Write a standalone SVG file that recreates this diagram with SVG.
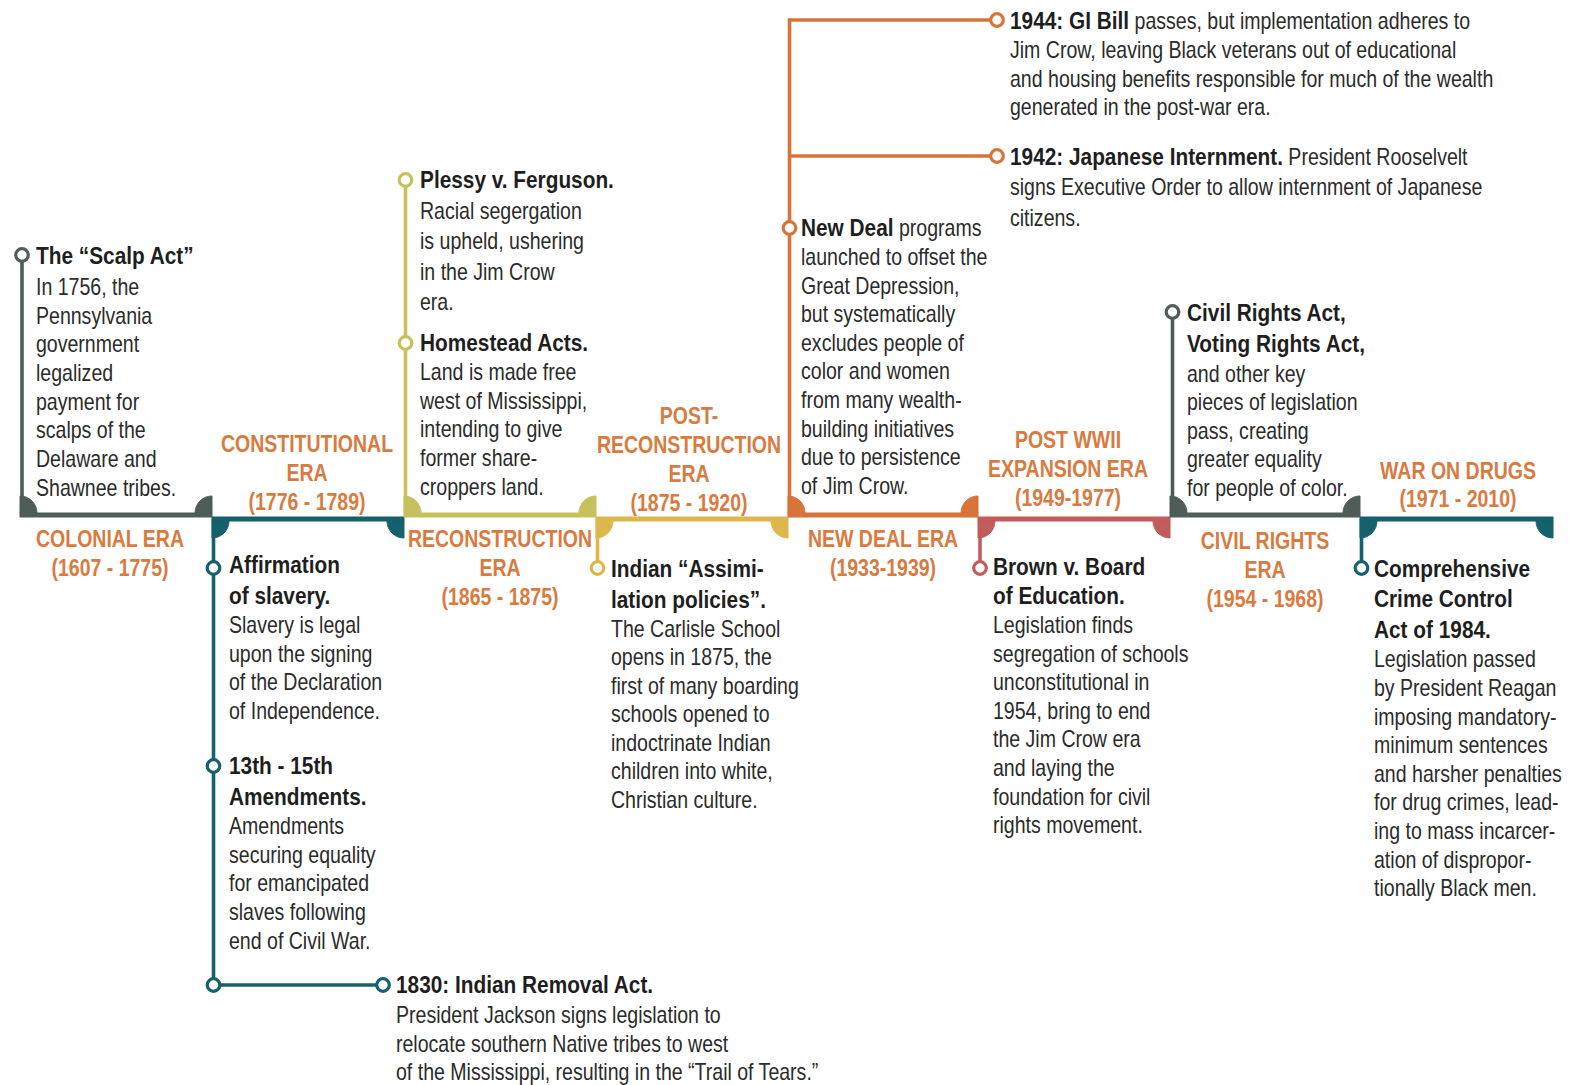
<svg xmlns="http://www.w3.org/2000/svg" width="1569" height="1085" viewBox="0 0 1569 1085">
<style>
text{font-family:"Liberation Sans",Arial,sans-serif;font-size:23px;fill:#2b2b2b}
.b{font-weight:bold;fill:#1e1e1e;font-size:24.5px}
.era{font-weight:bold;fill:#d97a3f;text-anchor:middle;font-size:23.5px}
.dot{fill:#fff;stroke-width:3.2}
.gray{fill:#4f5d58;stroke:#4f5d58}
.teal{fill:#15616d;stroke:#15616d}
.olive{fill:#c5c25c;stroke:#c5c25c}
.gold{fill:#dcb84c;stroke:#dcb84c}
.orange{fill:#d8733a;stroke:#d8733a}
.rose{fill:#c25b5b;stroke:#c25b5b}
path.ln{fill:none;stroke-width:3.6}
</style>
<rect width="1569" height="1085" fill="#fff"/>

<g id="connectors">
<path class="ln gray" d="M22 515 V255"/>
<path class="ln teal" d="M213.5 519 V985 H383"/>
<path class="ln olive" d="M405.5 515 V180"/>
<path class="ln gold" d="M597.5 519 V568"/>
<path class="ln orange" d="M789.5 515 V20 H997 M789.5 156 H997"/>
<path class="ln rose" d="M980 519 V568"/>
<path class="ln gray" d="M1172.5 515 V312"/>
<path class="ln teal" d="M1361.5 519 V568"/>
</g>

<g id="era-colonial">
<rect class="gray" x="20" y="513" width="192" height="4" stroke="none"/>
<path class="gray" stroke="none" d="M20 513 V496 A17 17 0 0 1 37 513 Z M212 513 H195 A17 17 0 0 1 212 496 Z"/>
<text class="era" transform="translate(110 0) scale(0.83 1)" x="0" y="547.5">COLONIAL ERA<tspan x="0" dy="29">(1607 - 1775)</tspan></text>
</g>

<g id="era-constitutional">
<rect class="teal" x="212" y="517" width="192" height="4" stroke="none"/>
<path class="teal" stroke="none" d="M212 521 H229 A17 17 0 0 1 212 538 Z M404 521 V538 A17 17 0 0 1 387 521 Z"/>
<text class="era" transform="translate(307 0) scale(0.83 1)" x="0" y="452.5">CONSTITUTIONAL<tspan x="0" dy="28.5">ERA</tspan><tspan x="0" dy="29">(1776 - 1789)</tspan></text>
</g>

<g id="era-reconstruction">
<rect class="olive" x="404" y="513" width="192" height="4" stroke="none"/>
<path class="olive" stroke="none" d="M404 513 V496 A17 17 0 0 1 421 513 Z M596 513 H579 A17 17 0 0 1 596 496 Z"/>
<text class="era" transform="translate(500 0) scale(0.83 1)" x="0" y="547.5">RECONSTRUCTION<tspan x="0" dy="29">ERA</tspan><tspan x="0" dy="29">(1865 - 1875)</tspan></text>
</g>

<g id="era-post-reconstruction">
<rect class="gold" x="596" y="517" width="192" height="4" stroke="none"/>
<path class="gold" stroke="none" d="M596 521 H613 A17 17 0 0 1 596 538 Z M788 521 V538 A17 17 0 0 1 771 521 Z"/>
<text class="era" transform="translate(689 0) scale(0.83 1)" x="0" y="424.5">POST-<tspan x="0" dy="29">RECONSTRUCTION</tspan><tspan x="0" dy="28.5">ERA</tspan><tspan x="0" dy="29">(1875 - 1920)</tspan></text>
</g>

<g id="era-new-deal">
<rect class="orange" x="788" y="513" width="190" height="4" stroke="none"/>
<path class="orange" stroke="none" d="M788 513 V496 A17 17 0 0 1 805 513 Z M978 513 H961 A17 17 0 0 1 978 496 Z"/>
<text class="era" transform="translate(883 0) scale(0.83 1)" x="0" y="547.5">NEW DEAL ERA<tspan x="0" dy="29">(1933-1939)</tspan></text>
</g>

<g id="era-post-wwii">
<rect class="rose" x="978" y="517" width="192" height="4" stroke="none"/>
<path class="rose" stroke="none" d="M978 521 H995 A17 17 0 0 1 978 538 Z M1170 521 V538 A17 17 0 0 1 1153 521 Z"/>
<text class="era" transform="translate(1068 0) scale(0.83 1)" x="0" y="448.5">POST WWII<tspan x="0" dy="29">EXPANSION ERA</tspan><tspan x="0" dy="29">(1949-1977)</tspan></text>
</g>

<g id="era-civil-rights">
<rect class="gray" x="1170" y="513" width="190" height="4" stroke="none"/>
<path class="gray" stroke="none" d="M1170 513 V496 A17 17 0 0 1 1187 513 Z M1360 513 H1343 A17 17 0 0 1 1360 496 Z"/>
<text class="era" transform="translate(1265 0) scale(0.83 1)" x="0" y="549.5">CIVIL RIGHTS<tspan x="0" dy="29">ERA</tspan><tspan x="0" dy="29">(1954 - 1968)</tspan></text>
</g>

<g id="era-war-on-drugs">
<rect class="teal" x="1360" y="517" width="193" height="4" stroke="none"/>
<path class="teal" stroke="none" d="M1360 521 H1377 A17 17 0 0 1 1360 538 Z M1553 521 V538 A17 17 0 0 1 1536 521 Z"/>
<text class="era" transform="translate(1458 0) scale(0.83 1)" x="0" y="479.5">WAR ON DRUGS<tspan x="0" dy="28">(1971 - 2010)</tspan></text>
</g>

<g id="ev-scalp-act">
<circle class="dot" cx="22" cy="255" r="6.3" stroke="#4f5d58"/>
<text transform="translate(36 0) scale(0.85 1)" x="0" y="264"><tspan class="b">The “Scalp Act”</tspan><tspan x="0" dy="31">In 1756, the</tspan><tspan x="0" dy="28.7">Pennsylvania</tspan><tspan x="0" dy="28.7">government</tspan><tspan x="0" dy="28.7">legalized</tspan><tspan x="0" dy="28.7">payment for</tspan><tspan x="0" dy="28.7">scalps of the</tspan><tspan x="0" dy="28.7">Delaware and</tspan><tspan x="0" dy="28.7">Shawnee tribes.</tspan></text>
</g>

<g id="ev-affirmation">
<circle class="dot" cx="213.5" cy="568" r="6.3" stroke="#15616d"/>
<text transform="translate(229 0) scale(0.85 1)" x="0" y="573"><tspan class="b">Affirmation</tspan><tspan class="b" x="0" dy="31">of slavery.</tspan><tspan x="0" dy="29">Slavery is legal</tspan><tspan x="0" dy="28.7">upon the signing</tspan><tspan x="0" dy="28.7">of the Declaration</tspan><tspan x="0" dy="28.7">of Independence.</tspan></text>
</g>

<g id="ev-amendments">
<circle class="dot" cx="213.5" cy="766" r="6.3" stroke="#15616d"/>
<text transform="translate(229 0) scale(0.85 1)" x="0" y="774"><tspan class="b">13th - 15th</tspan><tspan class="b" x="0" dy="31">Amendments.</tspan><tspan x="0" dy="29">Amendments</tspan><tspan x="0" dy="28.7">securing equality</tspan><tspan x="0" dy="28.7">for emancipated</tspan><tspan x="0" dy="28.7">slaves following</tspan><tspan x="0" dy="28.7">end of Civil War.</tspan></text>
</g>

<g id="ev-removal-act">
<circle class="dot" cx="213.5" cy="985" r="6.3" stroke="#15616d"/>
<circle class="dot" cx="383" cy="985" r="6.3" stroke="#15616d"/>
<text transform="translate(396 0) scale(0.85 1)" x="0" y="993"><tspan class="b">1830: Indian Removal Act.</tspan><tspan x="0" dy="30">President Jackson signs legislation to</tspan><tspan x="0" dy="28.7">relocate southern Native tribes to west</tspan><tspan x="0" dy="28.7">of the Mississippi, resulting in the “Trail of Tears.”</tspan></text>
</g>

<g id="ev-plessy">
<circle class="dot" cx="405.5" cy="180" r="6.3" stroke="#c5c25c"/>
<text transform="translate(420 0) scale(0.85 1)" x="0" y="188"><tspan class="b">Plessy v. Ferguson.</tspan><tspan x="0" dy="31">Racial segergation</tspan><tspan x="0" dy="30.3">is upheld, ushering</tspan><tspan x="0" dy="30.3">in the Jim Crow</tspan><tspan x="0" dy="30.3">era.</tspan></text>
</g>

<g id="ev-homestead">
<circle class="dot" cx="405.5" cy="343" r="6.3" stroke="#c5c25c"/>
<text transform="translate(420 0) scale(0.85 1)" x="0" y="351"><tspan class="b">Homestead Acts.</tspan><tspan x="0" dy="29">Land is made free</tspan><tspan x="0" dy="28.7">west of Mississippi,</tspan><tspan x="0" dy="28.7">intending to give</tspan><tspan x="0" dy="28.7">former share-</tspan><tspan x="0" dy="28.7">croppers land.</tspan></text>
</g>

<g id="ev-assimilation">
<circle class="dot" cx="597.5" cy="568" r="6.3" stroke="#dcb84c"/>
<text transform="translate(611 0) scale(0.85 1)" x="0" y="577"><tspan class="b">Indian “Assimi-</tspan><tspan class="b" x="0" dy="31">lation policies”.</tspan><tspan x="0" dy="29">The Carlisle School</tspan><tspan x="0" dy="28.5">opens in 1875, the</tspan><tspan x="0" dy="28.5">first of many boarding</tspan><tspan x="0" dy="28.5">schools opened to</tspan><tspan x="0" dy="28.5">indoctrinate Indian</tspan><tspan x="0" dy="28.5">children into white,</tspan><tspan x="0" dy="28.5">Christian culture.</tspan></text>
</g>

<g id="ev-new-deal">
<circle class="dot" cx="789.5" cy="228" r="6.3" stroke="#d8733a"/>
<text transform="translate(801 0) scale(0.85 1)" x="0" y="236"><tspan class="b">New Deal</tspan> programs<tspan x="0" dy="29">launched to offset the</tspan><tspan x="0" dy="28.6">Great Depression,</tspan><tspan x="0" dy="28.6">but systematically</tspan><tspan x="0" dy="28.6">excludes people of</tspan><tspan x="0" dy="28.6">color and women</tspan><tspan x="0" dy="28.6">from many wealth-</tspan><tspan x="0" dy="28.6">building initiatives</tspan><tspan x="0" dy="28.6">due to persistence</tspan><tspan x="0" dy="28.6">of Jim Crow.</tspan></text>
</g>

<g id="ev-gi-bill">
<circle class="dot" cx="997" cy="20" r="6.3" stroke="#d8733a"/>
<text transform="translate(1010 0) scale(0.85 1)" x="0" y="29"><tspan class="b">1944: GI Bill</tspan> passes, but implementation adheres to<tspan x="0" dy="29">Jim Crow, leaving Black veterans out of educational</tspan><tspan x="0" dy="28.7">and housing benefits responsible for much of the wealth</tspan><tspan x="0" dy="28.7">generated in the post-war era.</tspan></text>
</g>

<g id="ev-internment">
<circle class="dot" cx="997" cy="156" r="6.3" stroke="#d8733a"/>
<text transform="translate(1010 0) scale(0.85 1)" x="0" y="165"><tspan class="b">1942: Japanese Internment.</tspan> President Rooselvelt<tspan x="0" dy="30.5">signs Executive Order to allow internment of Japanese</tspan><tspan x="0" dy="30.5">citizens.</tspan></text>
</g>

<g id="ev-brown">
<circle class="dot" cx="980" cy="568" r="6.3" stroke="#c25b5b"/>
<text transform="translate(993 0) scale(0.85 1)" x="0" y="575"><tspan class="b">Brown v. Board</tspan><tspan class="b" x="0" dy="29">of Education.</tspan><tspan x="0" dy="29">Legislation finds</tspan><tspan x="0" dy="28.6">segregation of schools</tspan><tspan x="0" dy="28.6">unconstitutional in</tspan><tspan x="0" dy="28.6">1954, bring to end</tspan><tspan x="0" dy="28.6">the Jim Crow era</tspan><tspan x="0" dy="28.6">and laying the</tspan><tspan x="0" dy="28.6">foundation for civil</tspan><tspan x="0" dy="28.6">rights movement.</tspan></text>
</g>

<g id="ev-civil-rights">
<circle class="dot" cx="1172.5" cy="312" r="6.3" stroke="#4f5d58"/>
<text transform="translate(1187 0) scale(0.85 1)" x="0" y="321"><tspan class="b">Civil Rights Act,</tspan><tspan class="b" x="0" dy="31">Voting Rights Act,</tspan><tspan x="0" dy="30">and other key</tspan><tspan x="0" dy="28.5">pieces of legislation</tspan><tspan x="0" dy="28.5">pass, creating</tspan><tspan x="0" dy="28.5">greater equality</tspan><tspan x="0" dy="28.5">for people of color.</tspan></text>
</g>

<g id="ev-crime-control">
<circle class="dot" cx="1361.5" cy="568" r="6.3" stroke="#15616d"/>
<text transform="translate(1374 0) scale(0.85 1)" x="0" y="577"><tspan class="b">Comprehensive</tspan><tspan class="b" x="0" dy="30.5">Crime Control</tspan><tspan class="b" x="0" dy="30.5">Act of 1984.</tspan><tspan x="0" dy="29.5">Legislation passed</tspan><tspan x="0" dy="28.6">by President Reagan</tspan><tspan x="0" dy="28.6">imposing mandatory-</tspan><tspan x="0" dy="28.6">minimum sentences</tspan><tspan x="0" dy="28.6">and harsher penalties</tspan><tspan x="0" dy="28.6">for drug crimes, lead-</tspan><tspan x="0" dy="28.6">ing to mass incarcer-</tspan><tspan x="0" dy="28.6">ation of dispropor-</tspan><tspan x="0" dy="28.6">tionally Black men.</tspan></text>
</g>
</svg>
